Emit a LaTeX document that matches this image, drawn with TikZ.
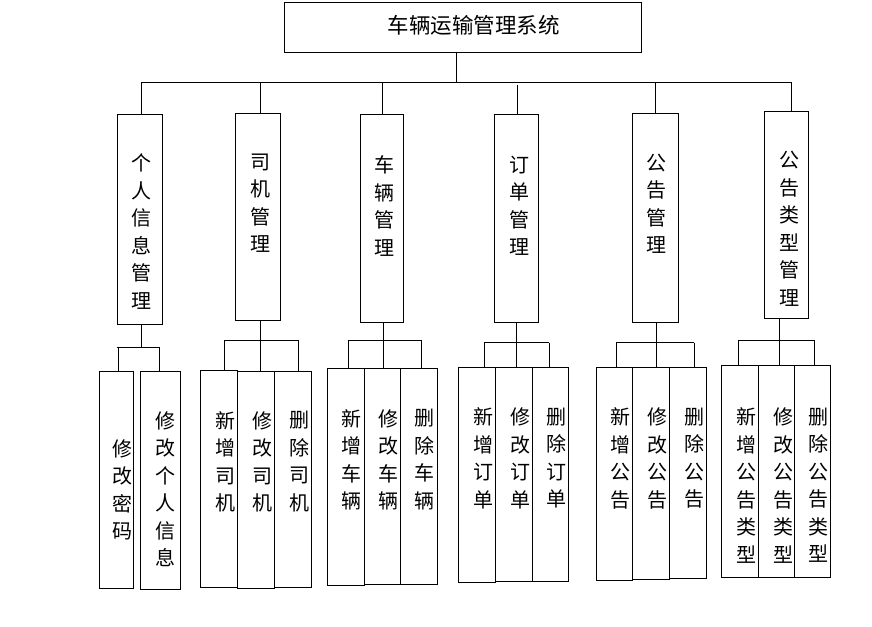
\documentclass[tikz,border=0pt]{standalone}
\usepackage{fontspec}
\newfontfamily\cjk{Noto Sans CJK SC}
\tikzset{
  box/.style={draw, line width=0.8pt, inner sep=0pt, outer sep=0pt, anchor=north west},
  vtext/.style={font=\cjk\fontsize{20}{27.5}\selectfont, align=center, anchor=north, inner sep=0pt},
  conn/.style={line width=0.8pt},
}
\begin{document}
\begin{tikzpicture}[x=1pt,y=-1pt]
\useasboundingbox[fill=white] (0,0) rectangle (872,626);
% title
\node[box, minimum width=357pt, minimum height=50pt] (title) at (284,2) {};
\node[font=\cjk\fontsize{21.5}{24}\selectfont, inner sep=0pt] (titletext) at (473.5,25.5) {车辆运输管理系统};
% level 1 boxes
\node[box, minimum width=45pt, minimum height=210pt] (b1) at (117.3,114.3) {};
\node[box, minimum width=45pt, minimum height=206.7pt] (b2) at (235.3,113.3) {};
\node[box, minimum width=43pt, minimum height=208pt] (b3) at (360.3,114.3) {};
\node[box, minimum width=44pt, minimum height=208pt] (b4) at (494.3,114.3) {};
\node[box, minimum width=46pt, minimum height=209pt] (b5) at (632.3,113.3) {};
\node[box, minimum width=44pt, minimum height=206.6pt] (b6) at (764.3,111.7) {};
\node[vtext] (t1) at (141.7,153.5) {个\\人\\信\\息\\管\\理};
\node[vtext] (t2) at (260,153.5) {司\\机\\管\\理};
\node[vtext] (t3) at (384,155.5) {车\\辆\\管\\理};
\node[vtext] (t4) at (519,155.5) {订\\单\\管\\理};
\node[vtext] (t5) at (656.7,153.5) {公\\告\\管\\理};
\node[vtext] (t6) at (789,151) {公\\告\\类\\型\\管\\理};
% level 1 connectors
\coordinate (top0) at (456,82);
\coordinate (busL) at (141.7,82);
\coordinate (busR) at (792,82);
\draw[conn] (title.south -| top0) -- (top0);
\draw[conn] (busL) -- (busR);
\coordinate (s1) at (141.7,82);
\coordinate (s2) at (260.7,82);
\coordinate (s3) at (382,82);
\coordinate (s4) at (517.7,85);
\coordinate (s5) at (655.3,82);
\coordinate (s6) at (791.3,82);
\draw[conn] (s1) -- (s1 |- b1.north);
\draw[conn] (s2) -- (s2 |- b2.north);
\draw[conn] (s3) -- (s3 |- b3.north);
\draw[conn] (s4) -- (s4 |- b4.north);
\draw[conn] (s5) -- (s5 |- b5.north);
\draw[conn] (s6) -- (s6 |- b6.north);
% level 2 boxes
\node[box, minimum width=34pt, minimum height=217pt] (c11) at (99.3,371.3) {};
\node[box, minimum width=40pt, minimum height=218pt] (c12) at (140.3,371.3) {};
\node[box, minimum width=37pt, minimum height=217pt] (c21) at (200.3,370.3) {};
\node[box, minimum width=37pt, minimum height=217pt] (c22) at (237.3,371.3) {};
\node[box, minimum width=37pt, minimum height=216pt] (c23) at (274.3,371.3) {};
\node[box, minimum width=37pt, minimum height=217pt] (c31) at (327.3,368.3) {};
\node[box, minimum width=36.4pt, minimum height=216pt] (c32) at (364.3,368.3) {};
\node[box, minimum width=36.6pt, minimum height=216pt] (c33) at (400.7,368.3) {};
\node[box, minimum width=37pt, minimum height=215pt] (c41) at (458.3,367.3) {};
\node[box, minimum width=37pt, minimum height=214pt] (c42) at (495.3,367.3) {};
\node[box, minimum width=36pt, minimum height=214pt] (c43) at (532.3,367.3) {};
\node[box, minimum width=36pt, minimum height=213pt] (c51) at (596.7,367.3) {};
\node[box, minimum width=36.6pt, minimum height=212pt] (c52) at (632.7,367.3) {};
\node[box, minimum width=37pt, minimum height=211pt] (c53) at (669.3,367.3) {};
\node[box, minimum width=37pt, minimum height=212pt] (c61) at (721.7,365.3) {};
\node[box, minimum width=35.6pt, minimum height=212pt] (c62) at (758.7,365.3) {};
\node[box, minimum width=36pt, minimum height=212pt] (c63) at (794.3,365.3) {};
% level 2 texts
\node[vtext] (u11) at (122.7,439) {修\\改\\密\\码};
\node[vtext] (u12) at (165,411) {修\\改\\个\\人\\信\\息};
\node[vtext] (u21) at (225,411) {新\\增\\司\\机};
\node[vtext] (u22) at (262.3,411) {修\\改\\司\\机};
\node[vtext] (u23) at (299,411) {删\\除\\司\\机};
\node[vtext] (u31) at (351.7,409) {新\\增\\车\\辆};
\node[vtext] (u32) at (388.3,409) {修\\改\\车\\辆};
\node[vtext] (u33) at (424.3,409) {删\\除\\车\\辆};
\node[vtext] (u41) at (483.3,407.5) {新\\增\\订\\单};
\node[vtext] (u42) at (520,407.5) {修\\改\\订\\单};
\node[vtext] (u43) at (556,407.5) {删\\除\\订\\单};
\node[vtext] (u51) at (620,407.5) {新\\增\\公\\告};
\node[vtext] (u52) at (657.3,407.5) {修\\改\\公\\告};
\node[vtext] (u53) at (694,407.5) {删\\除\\公\\告};
\node[vtext] (u61) at (746,407.5) {新\\增\\公\\告\\类\\型};
\node[vtext] (u62) at (783.3,407.5) {修\\改\\公\\告\\类\\型};
\node[vtext] (u63) at (818.3,407.5) {删\\除\\公\\告\\类\\型};
% group 1 connectors
\coordinate (h1) at (141.7,347.3);
\draw[conn] (b1.south -| h1) -- (h1);
\coordinate (h1L) at (116.7,347.3);
\coordinate (h1R) at (159.3,347.3);
\draw[conn] (h1L) -- (h1R);
\coordinate (l11) at (118.3,347.3);
\draw[conn] (l11) -- (l11 |- c11.north);
\draw[conn] (h1R) -- (h1R |- c12.north);
% group 2
\coordinate (h2) at (260.7,340);
\draw[conn] (b2.south -| h2) -- (h2);
\coordinate (h2L) at (224.3,340);
\coordinate (h2R) at (298.3,340);
\draw[conn] (h2L) -- (h2R);
\draw[conn] (h2L) -- (h2L |- c21.north);
\draw[conn] (h2) -- (h2 |- c22.north);
\draw[conn] (h2R) -- (h2R |- c23.north);
% group 3
\coordinate (h3) at (383,340.3);
\draw[conn] (b3.south -| h3) -- (h3);
\coordinate (h3L) at (348.7,340.3);
\coordinate (h3R) at (421.3,340.3);
\draw[conn] (h3L) -- (h3R);
\draw[conn] (h3L) -- (h3L |- c31.north);
\draw[conn] (h3) -- (h3 |- c32.north);
\draw[conn] (h3R) -- (h3R |- c33.north);
% group 4
\coordinate (h4) at (516.7,342.7);
\draw[conn] (b4.south -| h4) -- (h4);
\coordinate (h4L) at (484.3,342.7);
\coordinate (h4R) at (549,342.7);
\draw[conn] (h4L) -- (h4R);
\draw[conn] (h4L) -- (h4L |- c41.north);
\draw[conn] (h4) -- (h4 |- c42.north);
\draw[conn] (h4R) -- (h4R |- c43.north);
% group 5
\coordinate (h5) at (656.3,342.7);
\draw[conn] (b5.south -| h5) -- (h5);
\coordinate (h5L) at (616,342.7);
\coordinate (h5R) at (694.3,342.7);
\draw[conn] (h5L) -- (h5R);
\draw[conn] (h5L) -- (h5L |- c51.north);
\draw[conn] (h5) -- (h5 |- c52.north);
\draw[conn] (h5R) -- (h5R |- c53.north);
% group 6
\coordinate (h6) at (779.3,340.3);
\draw[conn] (b6.south -| h6) -- (h6);
\coordinate (h6L) at (738.3,340.3);
\coordinate (h6R) at (814.3,340.3);
\draw[conn] (h6L) -- (h6R);
\draw[conn] (h6L) -- (h6L |- c61.north);
\draw[conn] (h6) -- (h6 |- c62.north);
\draw[conn] (h6R) -- (h6R |- c63.north);
\end{tikzpicture}
\end{document}
